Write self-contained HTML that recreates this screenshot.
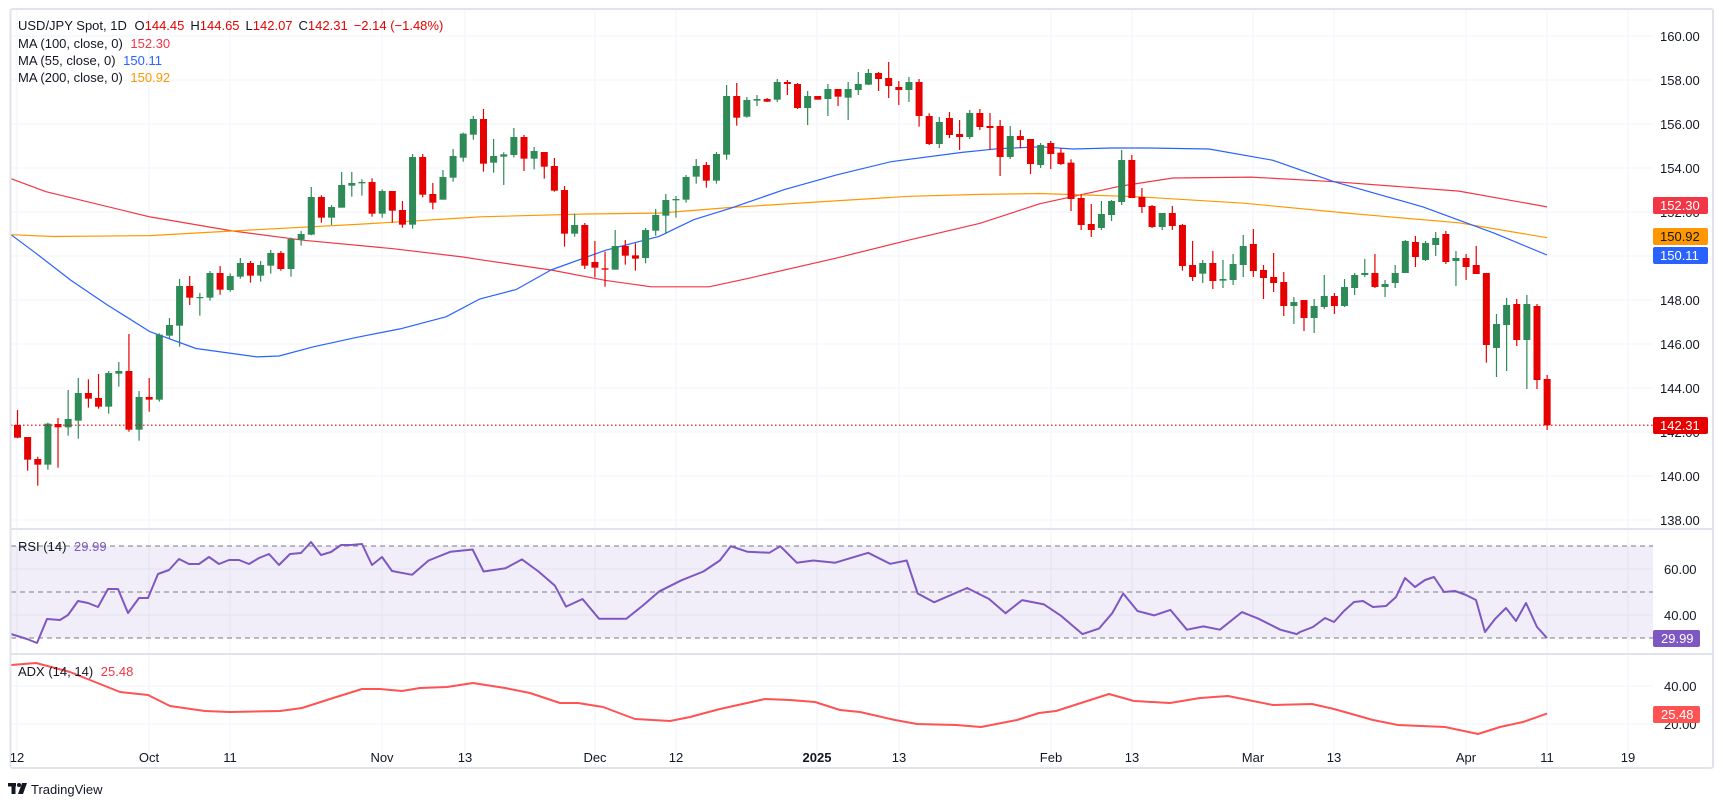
<!DOCTYPE html>
<html><head><meta charset="utf-8"><style>
html,body{margin:0;padding:0;background:#fff;}
svg{display:block;font-family:"Liberation Sans",Arial,sans-serif;}
</style></head><body>
<svg id="s" width="1723" height="803" viewBox="0 0 1723 803" xmlns="http://www.w3.org/2000/svg">
<rect width="1723" height="803" fill="#fff"/>
<g id="grid" stroke="#f0f3fa" stroke-width="1"></g>
<rect x="11" y="546" width="1642" height="92" fill="rgba(126,87,194,0.1)"/>
<g stroke="#787b86" stroke-dasharray="5,4" stroke-width="1">
<line x1="11" y1="546" x2="1653" y2="546"/><line x1="11" y1="592" x2="1653" y2="592"/><line x1="11" y1="638" x2="1653" y2="638"/>
</g>
<g id="ma" fill="none" stroke-width="1.2"></g>
<g id="candles"></g>
<line x1="11" y1="425.2" x2="1653" y2="425.2" stroke="#e60000" stroke-dasharray="1.5,2.5" stroke-width="1.2"/>
<g id="ind" fill="none" stroke-width="2"></g>
<g stroke="#e0e3eb" stroke-width="2" fill="none">
<rect x="10.5" y="9" width="1702.5" height="759" rx="2"/>
<line x1="11" y1="529" x2="1713" y2="529"/><line x1="11" y1="654" x2="1713" y2="654"/>
</g>
<g font-size="13" fill="#131722">
<text x="18" y="30">USD/JPY Spot, 1D <tspan fill="#131722" dx="4">O</tspan><tspan fill="#e60000">144.45</tspan><tspan dx="6">H</tspan><tspan fill="#e60000">144.65</tspan><tspan dx="6">L</tspan><tspan fill="#e60000">142.07</tspan><tspan dx="6">C</tspan><tspan fill="#e60000">142.31</tspan><tspan dx="6" fill="#e60000">−2.14 (−1.48%)</tspan></text>
<text x="18" y="48">MA (100, close, 0) <tspan dx="4" fill="#f23645">152.30</tspan></text>
<text x="18" y="65">MA (55, close, 0) <tspan dx="4" fill="#2962ff">150.11</tspan></text>
<text x="18" y="82">MA (200, close, 0) <tspan dx="4" fill="#ff9800">150.92</tspan></text>
<text x="18" y="551">RSI (14) <tspan dx="4" fill="#7e57c2">29.99</tspan></text>
<text x="18" y="676">ADX (14, 14) <tspan dx="4" fill="#f23645">25.48</tspan></text>
</g>
<g font-size="13" fill="#131722">
<text x="1660" y="41">160.00</text><text x="1660" y="85">158.00</text><text x="1660" y="129">156.00</text><text x="1660" y="173">154.00</text><text x="1660" y="217">152.00</text><text x="1660" y="305">148.00</text><text x="1660" y="349">146.00</text><text x="1660" y="393">144.00</text><text x="1660" y="437">142.00</text><text x="1660" y="481">140.00</text><text x="1660" y="525">138.00</text>
<text x="1664" y="574">60.00</text><text x="1664" y="620">40.00</text>
<text x="1664" y="691">40.00</text><text x="1664" y="729">20.00</text>
</g>
<g font-size="13" fill="#fff">
<rect x="1653" y="197" width="55" height="17" rx="2" fill="#f23645"/><text x="1660" y="210">152.30</text>
<rect x="1653" y="228" width="55" height="17" rx="2" fill="#ff9800"/><text x="1660" y="241" fill="#131722">150.92</text>
<rect x="1653" y="247" width="55" height="17" rx="2" fill="#2962ff"/><text x="1660" y="260">150.11</text>
<rect x="1653" y="417" width="55" height="17" rx="2" fill="#e60000"/><text x="1660" y="430">142.31</text>
<rect x="1653" y="630" width="47" height="17" rx="2" fill="#7e57c2"/><text x="1661" y="643">29.99</text>
<rect x="1653" y="706" width="47" height="17" rx="2" fill="#ff5252"/><text x="1661" y="719">25.48</text>
</g>
<g font-size="13" fill="#131722" text-anchor="middle">
<text x="17" y="762">12</text><text x="149" y="762">Oct</text><text x="230" y="762">11</text><text x="382" y="762">Nov</text><text x="465" y="762">13</text><text x="595" y="762">Dec</text><text x="676" y="762">12</text><text x="817" y="762" font-weight="bold">2025</text><text x="899" y="762">13</text><text x="1051" y="762">Feb</text><text x="1132" y="762">13</text><text x="1253" y="762">Mar</text><text x="1334" y="762">13</text><text x="1466" y="762">Apr</text><text x="1547" y="762">11</text><text x="1628" y="762">19</text>
</g>
<g fill="#131722">
<rect x="8" y="783" width="8" height="3.5"/><rect x="11.5" y="783" width="4" height="11"/><circle cx="19" cy="785" r="2"/><polygon points="22,783 27,783 23,794 18,794"/>
<text x="31" y="794" font-size="13">TradingView</text>
</g>
</svg>
<script>
var NS="http://www.w3.org/2000/svg";
function el(p,t,a){var e=document.createElementNS(NS,t);for(var k in a)e.setAttribute(k,a[k]);document.getElementById(p).appendChild(e);return e;}
[36,80,124,168,212,256,300,344,388,432,476,520,569,615,686,724].forEach(function(y){el("grid","line",{x1:11,y1:y,x2:1653,y2:y});});
[17,149,230,382,465,595,676,817,899,1051,1132,1253,1334,1466,1547,1628].forEach(function(x){el("grid","line",{x1:x,y1:10,x2:x,y2:768});});
function X(i){return 17.5+10.13*i;}
var z8=[["r",1005,1043,960,1045],["r",1041,1109,1041,1142],["r",1107,1124,1100,1187],["g",1001,1124,998,1139],["r",1002,1012,984,1133],["g",987,1012,900,1037],["g",909,992,864,1046],["r",909,926,868,953],["r",924,950,852,956],["g",849,950,843,971],["g",843,851,816,890],["r",843,1019,732,1025],["g",921,1019,903,1052],["r",921,929,864,965],["g",734,929,730,935],["g",705,737,684,745],["g",588,707,567,770],["r",588,623,558,645],["g",621,623,609,677],["g",549,623,543,632],["r",549,599,528,614],["g",558,600,550,605],["g",519,560,504,566],["r",519,557,513,578],["g",525,557,513,575],["g",489,527,480,551],["r",489,537,483,542],["g",447,537,443,560],["g",432,449,423,467],["g",321,434,291,436],["r",321,383,316,398],["g",351,383,345,405],["g",285,353,246,353],["g",279,287,246,320],["g",276,280,268,317],["r",276,371,265,380],["g",303,371,298,383],["r",303,362,303,398],["r",360,404,333,413],["g",201,404,192,416],["r",201,314,192,322],["r",312,338,279,358],["g",261,329,240,329],["g",198,263,177,275],["g",131,203,128,215],["g",87,134,78,149],["r",87,221,57,245]];
var z7=[["g",288,308,237,338],["g",283,290,277,375],["g",231,285,204,292],["r",231,296,225,333],["g",273,296,261,328],["r",276,320,276,356],["r",318,392,294,395],["r",390,521,378,560],["g",495,521,461,530],["r",495,617,489,627],["r",606,623,543,652],["r",625,629,575,680],["g",558,629,510,629],["r",558,587,540,614],["r",586,596,550,632],["g",510,594,504,610],["g",465,512,447,527],["g",420,467,402,522],["g",417,421,408,473],["g",351,419,345,428],["g",318,350,297,371],["r",315,362,306,383],["g",282,362,276,371],["g",108,284,75,299],["r",108,173,69,197],["g",120,170,111,173],["g",117,122,105,138],["r",117,125,114,126],["g",66,119,57,126],["r",66,72,60,105],["r",72,144,69,147],["g",108,144,93,195],["r",108,119,108,119],["g",87,117,72,168],["r",87,110,87,138],["g",87,113,66,180],["g",72,90,36,105],["g",39,74,27,75],["r",39,57,36,93],["r",54,78,6,114],["r",81,90,63,135],["g",66,90,51,126],["r",66,168,57,200],["r",168,252,160,255],["g",186,252,171,264],["r",174,225,156,234],["r",222,231,180,270],["g",159,231,150,237],["r",159,201,147,210],["r",198,204,159,270],["r",198,291,180,348],["g",228,291,198,297],["r",228,240,210,265],["r",237,312,237,342]];
var z9=[["r",8,42,-5,45],["r",38,147,28,183],["r",144,225,132,240],["r",222,240,162,261],["g",192,234,153,240],["g",153,195,150,213],["g",30,156,0,165],["r",30,144,15,144],["r",141,171,114,189],["r",168,231,165,234],["g",189,231,189,240],["r",189,228,168,240],["r",225,348,222,362],["r",345,381,273,393],["g",339,371,330,399],["r",339,393,303,417],["g",387,392,330,414],["g",342,390,312,405],["g",288,345,255,381],["r",282,363,237,381],["r",360,384,345,447],["r",381,399,309,426],["r",396,468,366,498],["g",456,468,441,522],["r",450,504,450,543],["g",468,504,447,549],["g",438,471,375,477],["r",438,468,429,492],["g",411,468,387,471],["g",375,414,369,435],["g",369,375,327,381],["r",369,411,312,414],["g",402,411,390,441],["g",369,399,345,414],["g",273,369,270,369],["r",276,321,258,351],["g",279,330,273,333],["g",264,285,246,318],["r",252,336,243,342],["g",324,333,303,408],["r",324,351,312,390],["r",345,372,288,372],["r",369,585,369,638],["g",522,594,492,681],["g",465,525,444,663],["r",462,570,447,588],["g",462,570,435,717],["r",468,690,462,717],["r",687,826,675,840]];
var bars=[];
function add(arr,oy){arr.forEach(function(d){bars.push([d[0],oy+d[1]/3,oy+d[2]/3,oy+d[3]/3,oy+d[4]/3]);});}
add(z8,90);add(z7,60);
bars.push(["g",145,165,143,168]);bars.push(["r",143,154,141,169]);
add(z9,150);
bars.forEach(function(b,i){var x=X(i),c=b[0]=="g"?"#2e8b57":"#e60000";
el("candles","line",{x1:x,y1:b[3],x2:x,y2:b[4],stroke:c,"stroke-width":1.2});
var h=Math.max(1.2,b[2]-b[1]);el("candles","rect",{x:x-3.5,y:b[1],width:7,height:h,fill:c});});
function path(g,pts,col,w){el(g,"path",{d:"M"+pts.map(function(p){return p[0].toFixed(1)+","+p[1].toFixed(1);}).join("L"),stroke:col,"stroke-width":w||1.2,fill:"none","stroke-linejoin":"round"});}
// MA points given as [x, y(old 2.8 calc)]; correct y by zoom origin
function fix(pts){return pts.map(function(p){var oy=p[0]<=560?90:(p[0]<=1040?60:150);return [p[0],oy+(p[1]-oy)*2.8/3];});}
var red8=[[11,185],[46,199],[150,226],[232,241],[304,251],[393,260],[464,269]];
var red7=[[480,274],[551,285],[605,296],[651,303],[709,303],[748,294],[837,272],[909,253],[980,235],[1040,214]];
var red9=[[1119,189],[1173,180],[1251,179],[1334,184],[1459,194],[1547,211]];
function fx(a,oy){return a.map(function(p){return [p[0],oy+(p[1]-oy)*2.8/3];});}
path("ma",fx(red8,90).concat(fx(red7,60),fx(red9,150)),"#f23645");
path("ma",fx([[11,245],[54,247],[150,246],[250,240],[357,234],[464,227]],90).concat(fx([[480,228],[587,225],[659,224],[730,218],[819,212],[909,206],[980,204],[1040,203]],60),fx([[1137,200],[1244,207],[1351,218],[1459,228],[1547,244]],150)),"#ff9800");
path("ma",fx([[11,245],[36,265],[71,294],[107,320],[150,349],[196,367],[257,376],[279,375],[314,365],[357,355],[400,346],[446,333]],90).concat(fx([[480,316],[516,306],[551,285],[605,264],[659,249],[694,231],[730,219],[784,199],[837,183],[891,169],[962,159],[998,155],[1040,153]],60),[[1073,149],[1112,148],[1148,148],[1209,149]],fx([[1273,161],[1334,184],[1423,211],[1494,239],[1547,262.5]],150)),"#2962ff");
var rsiA=[[11,634],[27,639],[37,643],[47,619],[60,620],[68,615],[78,601],[88,603],[98,607],[108,589],[118,589],[128,613],[139,598],[148,598],[158,574],[169,570],[179,559],[189,564],[199,564],[209,557],[219,564],[229,560],[239,560],[249,564],[259,558],[269,554],[279,565],[290,554],[301,553],[311,542],[321,555],[331,552],[341,545],[351,545],[362,544],[372,565],[382,557],[392,571]];
var rsiP=[[375,523],[390,510],[410,502],[430,500],[440,520],[460,517],[475,509],[490,520],[505,533],[515,552],[530,545],[545,563],[570,563],[585,551],[600,538],[620,528],[640,520],[655,510],[665,497],[680,502],[700,503],[710,497],[725,512],[740,510],[760,512],[790,503],[810,513],[825,510],[835,540],[850,548],[880,535],[900,545],[915,558],[930,546],[950,550],[965,560],[985,577],[1000,572],[1012,558],[1022,540],[1035,556],[1050,560],[1065,555],[1080,573],[1095,570],[1110,573],[1130,557],[1145,563],[1165,573],[1180,577]];
var rsiB=[[1300,632],[1313,627],[1325,618],[1334,622],[1344,611],[1354,602],[1363,601],[1373,607],[1386,606],[1396,597],[1405,578],[1415,587],[1425,580],[1434,577],[1444,592],[1455,591],[1466,595],[1476,600],[1485,632],[1495,619],[1506,608],[1516,621],[1526,603],[1537,627],[1547,638]];
var rsi=rsiA.concat(rsiP.map(function(p){return [p[0]*1.099,p[1]*1.099];}).filter(function(p){return p[0]>395&&p[0]<1300;})).concat(rsiB);
path("ind",rsi,"#7e57c2",2);
path("ind",[[11,665],[36,663],[70,672],[120,692],[148,695],[170,706],[205,711],[230,712],[280,711],[302,708],[330,699],[362,689],[380,689],[402,691],[420,688],[447,687],[473,683],[505,688],[530,693],[560,703],[578,703],[603,707],[635,719],[670,721],[690,717],[720,709],[765,699],[790,700],[815,702],[840,710],[860,712],[895,720],[917,724],[956,725],[981,727],[1017,720],[1039,713],[1056,711],[1109,694],[1134,701],[1170,703],[1200,698],[1228,696],[1273,705],[1312,704],[1334,709],[1373,720],[1398,725],[1445,727],[1478,734],[1500,727],[1523,722],[1547,713.6]],"#ff5252",2);
</script>
</body></html>
